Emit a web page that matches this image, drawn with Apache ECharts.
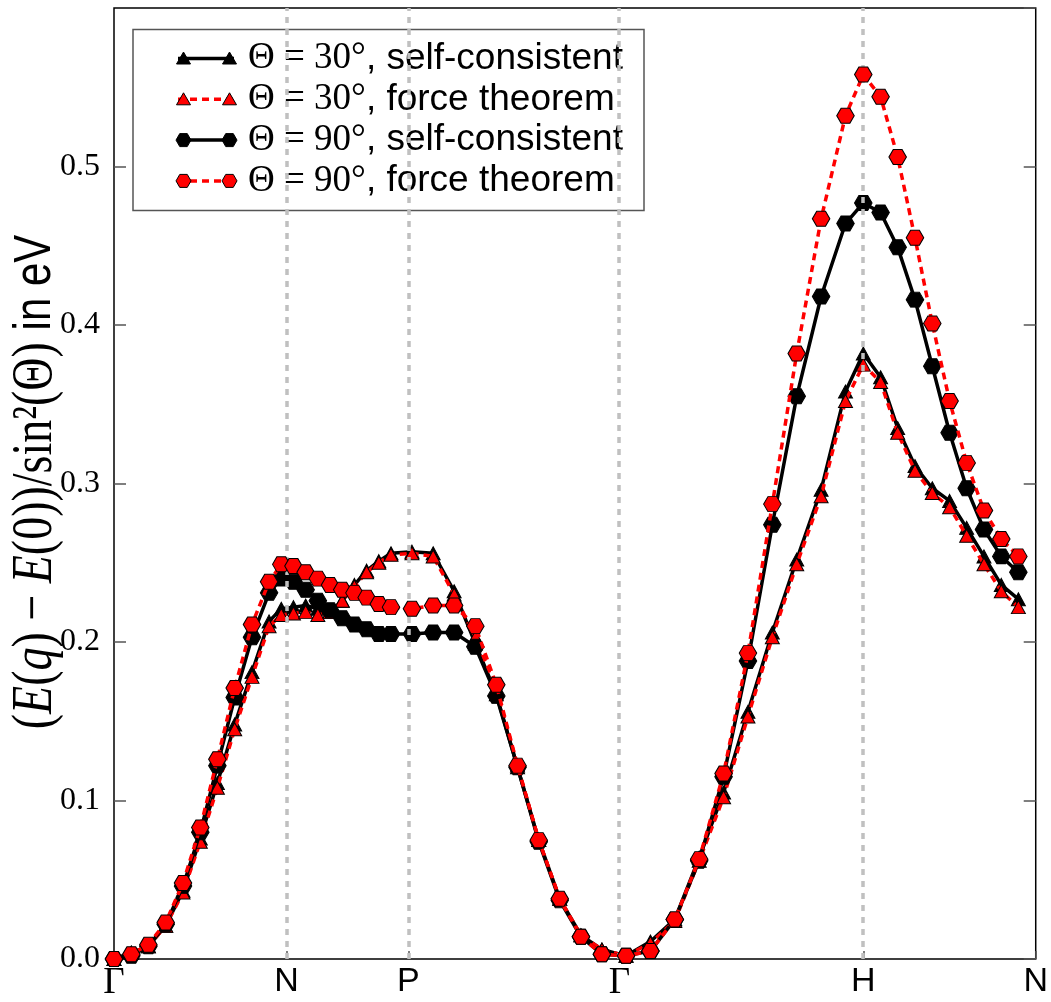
<!DOCTYPE html>
<html>
<head>
<meta charset="utf-8">
<script src="https://cdn.jsdelivr.net/npm/echarts@6/dist/echarts.min.js"></script>
<style>
html,body{margin:0;padding:0;background:#fff;}
#chart{width:1051px;height:1002px;}
</style>
</head>
<body>
<div id="chart"></div>
<script>
// High-symmetry points along the k-path (path length in units of 2π/a)
const tickPositions = [0, 0.7071, 1.2071, 2.0731, 3.0731, 3.7802];
const tickLabels = ['Γ', 'N', 'P', 'Γ', 'H', 'N'];

// q-point positions
const kPath = [
  0.000, 0.071, 0.141, 0.212, 0.283, 0.354, 0.424, 0.495, 0.566, 0.636,
  0.686, 0.736, 0.786, 0.836, 0.886, 0.936, 0.986, 1.036, 1.086, 1.136,
  1.222, 1.309, 1.395, 1.482, 1.568, 1.655, 1.742, 1.828, 1.915, 2.001,
  2.100, 2.200, 2.300, 2.400, 2.500, 2.600, 2.700, 2.800, 2.900, 3.000,
  3.073, 3.144, 3.214, 3.285, 3.356, 3.427, 3.497, 3.568, 3.639, 3.709
];

// Θ = 30°, self-consistent
const theta30SC = [
  0.000, 0.004, 0.008, 0.021, 0.043, 0.076, 0.111, 0.148, 0.181, 0.213,
  0.221, 0.222, 0.223, 0.221, 0.219, 0.226, 0.236, 0.245, 0.251, 0.256,
  0.257, 0.256, 0.232, 0.199, 0.167, 0.121, 0.075, 0.038, 0.015, 0.006,
  0.002, 0.011, 0.025, 0.064, 0.105, 0.156, 0.206, 0.252, 0.296, 0.358,
  0.382, 0.367, 0.335, 0.311, 0.297, 0.289, 0.272, 0.254, 0.236, 0.227
];
// Θ = 30°, force theorem
const theta30FT = [
  0.000, 0.004, 0.008, 0.021, 0.042, 0.074, 0.108, 0.145, 0.178, 0.210,
  0.217, 0.218, 0.219, 0.217, 0.219, 0.226, 0.235, 0.244, 0.250, 0.255,
  0.256, 0.254, 0.230, 0.203, 0.170, 0.122, 0.075, 0.038, 0.015, 0.006,
  0.002, 0.010, 0.024, 0.062, 0.102, 0.153, 0.203, 0.249, 0.292, 0.352,
  0.375, 0.364, 0.332, 0.308, 0.294, 0.285, 0.267, 0.249, 0.232, 0.222
];
// Θ = 90°, self-consistent
const theta90SC = [
  0.000, 0.002, 0.008, 0.022, 0.046, 0.080, 0.122, 0.165, 0.203, 0.231,
  0.240, 0.238, 0.233, 0.226, 0.220, 0.215, 0.211, 0.208, 0.205, 0.205,
  0.205, 0.206, 0.206, 0.197, 0.166, 0.121, 0.074, 0.037, 0.014, 0.003,
  0.002, 0.005, 0.025, 0.062, 0.115, 0.188, 0.274, 0.355, 0.418, 0.464,
  0.477, 0.471, 0.449, 0.416, 0.374, 0.332, 0.297, 0.271, 0.254, 0.244
];
// Θ = 90°, force theorem
const theta90FT = [
  0.000, 0.003, 0.009, 0.023, 0.048, 0.083, 0.126, 0.171, 0.211, 0.238,
  0.249, 0.248, 0.244, 0.240, 0.236, 0.233, 0.231, 0.228, 0.224, 0.222,
  0.221, 0.223, 0.223, 0.210, 0.173, 0.122, 0.075, 0.038, 0.014, 0.003,
  0.002, 0.005, 0.025, 0.063, 0.117, 0.193, 0.287, 0.382, 0.467, 0.532,
  0.558, 0.544, 0.506, 0.455, 0.401, 0.352, 0.313, 0.283, 0.265, 0.254
];

const seriesNames = [
  'Θ = 30°, self-consistent',
  'Θ = 30°, force theorem',
  'Θ = 90°, self-consistent',
  'Θ = 90°, force theorem'
];

const HEX = 'path://M-2,0 L-1,-1.732 L1,-1.732 L2,0 L1,1.732 L-1,1.732 Z';
const RED = '#ff0000';

function pts(ys) { return kPath.map((x, i) => [x, ys[i]]); }

function mkSeries(name, ys, symbol, size, color, dashed, z) {
  return {
    name: name, type: 'line', data: pts(ys),
    symbol: symbol, symbolSize: size, showAllSymbol: true,
    lineStyle: { color: color, width: 3.5, type: dashed ? [7, 5] : 'solid' },
    itemStyle: { color: color, borderColor: '#000', borderWidth: 1 },
    z: z, silent: true, animation: false
  };
}

const chart = echarts.init(document.getElementById('chart'), null, { renderer: 'canvas' });

// legend (drawn as graphic to match line + two end markers)
const legendRows = [
  { sym: 'tri', color: '#000', dashed: false },
  { sym: 'tri', color: RED, dashed: true },
  { sym: 'hex', color: '#000', dashed: false },
  { sym: 'hex', color: RED, dashed: true }
];
const legendTexts = [
  '{m|Θ = 30°}{s|, self-consistent}',
  '{m|Θ = 30°}{s|, force theorem}',
  '{m|Θ = 90°}{s|, self-consistent}',
  '{m|Θ = 90°}{s|, force theorem}'
];
function symShape(kind, cx, cy, color) {
  if (kind === 'tri') {
    return { type: 'polygon', shape: { points: [[cx, cy - 6.5], [cx + 7, cy + 5.5], [cx - 7, cy + 5.5]] },
      style: { fill: color, stroke: '#000', lineWidth: 1 } };
  }
  const r = 7.5, h = r * 0.866;
  return { type: 'polygon', shape: { points: [[cx - r, cy], [cx - r / 2, cy - h], [cx + r / 2, cy - h], [cx + r, cy], [cx + r / 2, cy + h], [cx - r / 2, cy + h]] },
    style: { fill: color, stroke: '#000', lineWidth: 1 } };
}
const legendChildren = [{
  type: 'rect', shape: { x: 133, y: 29.5, width: 511, height: 181 },
  style: { fill: '#fff', stroke: '#555', lineWidth: 1.5 }
}];
legendRows.forEach((r, i) => {
  const cy = 58.5 + 40.8 * i;
  legendChildren.push({
    type: 'line', shape: { x1: 178, y1: cy, x2: 234, y2: cy },
    style: { stroke: r.color, lineWidth: 3.5, lineDash: r.dashed ? [7, 5] : null }
  });
  legendChildren.push(symShape(r.sym, 183.5, cy, r.color));
  legendChildren.push(symShape(r.sym, 229.5, cy, r.color));
  legendChildren.push({
    type: 'text', x: 248, y: cy,
    style: {
      text: legendTexts[i], verticalAlign: 'middle', align: 'left', fill: '#000',
      rich: {
        m: { fontFamily: 'Liberation Serif', fontSize: 37, fill: '#000' },
        s: { fontFamily: 'Liberation Sans', fontSize: 37, fill: '#000' }
      }
    }
  });
});

const option = {
  animation: false,
  backgroundColor: '#fff',
  grid: { left: 114, right: 13, top: 8, bottom: 39, show: true, borderColor: '#000', borderWidth: 1.5, backgroundColor: 'transparent' },
  xAxis: {
    type: 'value', min: 0, max: 3.7802,
    axisLine: { show: false },
    splitLine: { show: false },
    axisTick: { show: true, inside: true, length: 8, customValues: tickPositions, lineStyle: { color: '#555', width: 1.5 } },
    axisLabel: {
      show: true, customValues: tickPositions, margin: 6,
      formatter: function (v) {
        let idx = 0, best = 1e9;
        tickPositions.forEach((t, i) => { if (Math.abs(t - v) < best) { best = Math.abs(t - v); idx = i; } });
        const lab = tickLabels[idx];
        return lab === 'Γ' ? '{g|' + lab + '}' : '{s|' + lab + '}';
      },
      rich: {
        g: { fontFamily: 'Liberation Serif', fontSize: 37, color: '#000' },
        s: { fontFamily: 'Liberation Sans', fontSize: 34, color: '#000' }
      }
    }
  },
  yAxis: [{
    type: 'value', min: 0, max: 0.6, interval: 0.1, position: 'left',
    axisLine: { show: false }, splitLine: { show: false },
    axisTick: { show: true, inside: true, length: 12, lineStyle: { color: '#555', width: 1.5 } },
    axisLabel: {
      show: true, margin: 14, showMaxLabel: false,
      fontFamily: 'Liberation Serif', fontSize: 32, color: '#000',
      formatter: v => v.toFixed(1)
    }
  }, {
    type: 'value', min: 0, max: 0.6, interval: 0.1, position: 'right',
    axisLine: { show: false }, splitLine: { show: false },
    axisTick: { show: true, inside: true, length: 12, lineStyle: { color: '#555', width: 1.5 } },
    axisLabel: { show: false }
  }],
  series: [
    {
      type: 'line', data: [], z: 1, silent: true,
      markLine: {
        silent: true, symbol: ['none', 'none'], label: { show: false }, animation: false,
        lineStyle: { color: '#c0c0c0', width: 3.5, type: [6, 6] },
        emphasis: { disabled: true },
        data: tickPositions.slice(1, tickPositions.length - 1).map(v => ({ xAxis: v }))
      }
    },
    mkSeries(seriesNames[0], theta30SC, 'triangle', [14, 13], '#000', false, 2),
    mkSeries(seriesNames[1], theta30FT, 'triangle', [14, 13], RED, true, 3),
    mkSeries(seriesNames[2], theta90SC, HEX, [17.5, 15], '#000', false, 4),
    mkSeries(seriesNames[3], theta90FT, HEX, [17.5, 15], RED, true, 5)
  ],
  graphic: [
    { type: 'group', z: 100, children: legendChildren },
    {
      type: 'text', x: 36, y: 482, rotation: Math.PI / 2, scaleY: 1.25, z: 100,
      style: {
        text: '{r|(}{i|E}{r|(}{i|q}{r|) − }{i|E}{r|(0))/sin²(Θ)}{s| in eV}',
        align: 'center', verticalAlign: 'middle', fill: '#000',
        rich: {
          r: { fontFamily: 'Liberation Serif', fontSize: 46, fill: '#000' },
          i: { fontFamily: 'Liberation Serif', fontStyle: 'italic', fontSize: 46, fill: '#000' },
          s: { fontFamily: 'Liberation Sans', fontSize: 42, fill: '#000' }
        }
      }
    }
  ]
};
chart.setOption(option);
</script>
</body>
</html>
